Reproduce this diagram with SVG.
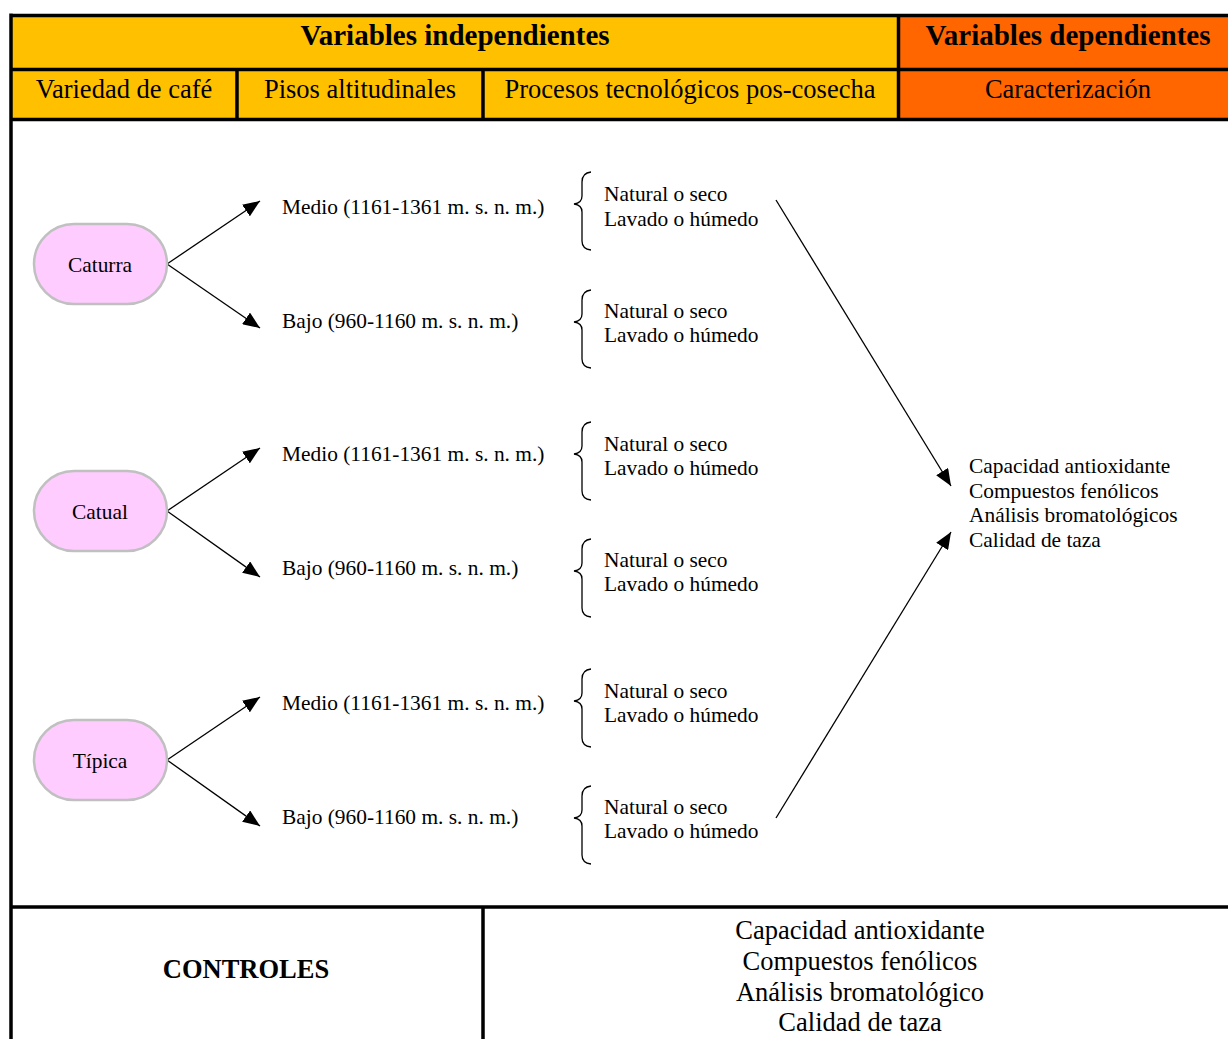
<svg xmlns="http://www.w3.org/2000/svg" width="1228" height="1039" viewBox="0 0 1228 1039">
<defs>
<style>
.t{font-family:"Liberation Serif","Times New Roman",serif;fill:#000}
.s21{font-size:21.4px}
.h{font-size:26.5px}
.hb{font-size:29px;font-weight:bold}
.grid{stroke:#000;stroke-width:3.5;fill:none}
.oval{fill:#ffccff;stroke:#c0c0c0;stroke-width:2.5}
.con{stroke:#000;stroke-width:1.3;fill:none}
.brace{stroke:#000;stroke-width:1.3;fill:none}
</style>
<marker id="ah" markerUnits="userSpaceOnUse" markerWidth="18" markerHeight="14" refX="17" refY="7" orient="auto">
<path d="M0,0 L17,7 L0,14 Z" fill="#000"/>
</marker>
<path id="br" d="M17,0 Q8,1 8,10 L8,24 Q8,31 0,32 Q8,33 8,40 L8,69 Q8,77 17,78"/>
</defs>
<rect width="1228" height="1039" fill="#fff"/>
<g id="table">
<rect x="11" y="15.5" width="887.5" height="104" fill="#ffc000"/>
<rect x="898.5" y="15.5" width="340" height="104" fill="#ff6600"/>
<path class="grid" d="M11,15.5 H1240 M11,69.5 H1240 M11,119.5 H1240 M11,13.5 V1039 M237,69.5 V119.5 M483,69.5 V119.5 M898.5,15.5 V119.5 M11,907 H1240 M483,907 V1039"/>
<text class="t hb" x="455" y="45" text-anchor="middle">Variables independientes</text>
<text class="t hb" x="1068" y="45" text-anchor="middle">Variables dependientes</text>
<text class="t h" x="124" y="98" text-anchor="middle">Variedad de café</text>
<text class="t h" x="360" y="98" text-anchor="middle">Pisos altitudinales</text>
<text class="t h" x="690" y="98" text-anchor="middle">Procesos tecnológicos pos-cosecha</text>
<text class="t h" x="1068" y="98" text-anchor="middle">Caracterización</text>
</g>
<g id="controles">
<text class="t h" x="246" y="978" text-anchor="middle" font-weight="bold">CONTROLES</text>
<text class="t h" x="860" y="939" text-anchor="middle">Capacidad antioxidante</text>
<text class="t h" x="860" y="970" text-anchor="middle">Compuestos fenólicos</text>
<text class="t h" x="860" y="1001" text-anchor="middle">Análisis bromatológico</text>
<text class="t h" x="860" y="1031" text-anchor="middle">Calidad de taza</text>
</g>
<g id="connectors">
<line class="con" x1="167" y1="264" x2="260" y2="201" marker-end="url(#ah)"/>
<line class="con" x1="167" y1="264" x2="260" y2="328" marker-end="url(#ah)"/>
<line class="con" x1="167" y1="511" x2="260" y2="448" marker-end="url(#ah)"/>
<line class="con" x1="167" y1="511" x2="260" y2="577" marker-end="url(#ah)"/>
<line class="con" x1="167" y1="760" x2="260" y2="697" marker-end="url(#ah)"/>
<line class="con" x1="167" y1="760" x2="260" y2="826" marker-end="url(#ah)"/>
<line class="con" x1="776" y1="200" x2="951" y2="486" marker-end="url(#ah)"/>
<line class="con" x1="776" y1="818" x2="951" y2="532" marker-end="url(#ah)"/>
</g>
<g id="caturra">
<rect class="oval" x="34" y="224" width="133" height="80" rx="40"/>
<text class="t s21" x="100" y="272" text-anchor="middle">Caturra</text>
</g>
<g id="catual">
<rect class="oval" x="34" y="471" width="133" height="80" rx="40"/>
<text class="t s21" x="100" y="519" text-anchor="middle">Catual</text>
</g>
<g id="tipica">
<rect class="oval" x="34" y="720" width="133" height="80" rx="40"/>
<text class="t s21" x="100" y="768" text-anchor="middle">Típica</text>
</g>
<g id="pisos">
<text class="t s21" x="282" y="214">Medio (1161-1361 m. s. n. m.)</text>
<text class="t s21" x="282" y="328">Bajo (960-1160 m. s. n. m.)</text>
<text class="t s21" x="282" y="461">Medio (1161-1361 m. s. n. m.)</text>
<text class="t s21" x="282" y="575">Bajo (960-1160 m. s. n. m.)</text>
<text class="t s21" x="282" y="710">Medio (1161-1361 m. s. n. m.)</text>
<text class="t s21" x="282" y="824">Bajo (960-1160 m. s. n. m.)</text>
</g>
<g id="procesos">
<use href="#br" class="brace" x="574" y="172"/>
<use href="#br" class="brace" x="574" y="290"/>
<use href="#br" class="brace" x="574" y="422"/>
<use href="#br" class="brace" x="574" y="539"/>
<use href="#br" class="brace" x="574" y="669"/>
<use href="#br" class="brace" x="574" y="786"/>
<text class="t s21" x="604" y="201">Natural o seco</text>
<text class="t s21" x="604" y="226">Lavado o húmedo</text>
<text class="t s21" x="604" y="318">Natural o seco</text>
<text class="t s21" x="604" y="342">Lavado o húmedo</text>
<text class="t s21" x="604" y="451">Natural o seco</text>
<text class="t s21" x="604" y="475">Lavado o húmedo</text>
<text class="t s21" x="604" y="567">Natural o seco</text>
<text class="t s21" x="604" y="591">Lavado o húmedo</text>
<text class="t s21" x="604" y="698">Natural o seco</text>
<text class="t s21" x="604" y="722">Lavado o húmedo</text>
<text class="t s21" x="604" y="814">Natural o seco</text>
<text class="t s21" x="604" y="838">Lavado o húmedo</text>
</g>
<g id="caracterizacion">
<text class="t s21" x="969" y="473">Capacidad antioxidante</text>
<text class="t s21" x="969" y="498">Compuestos fenólicos</text>
<text class="t s21" x="969" y="522">Análisis bromatológicos</text>
<text class="t s21" x="969" y="547">Calidad de taza</text>
</g>
</svg>
